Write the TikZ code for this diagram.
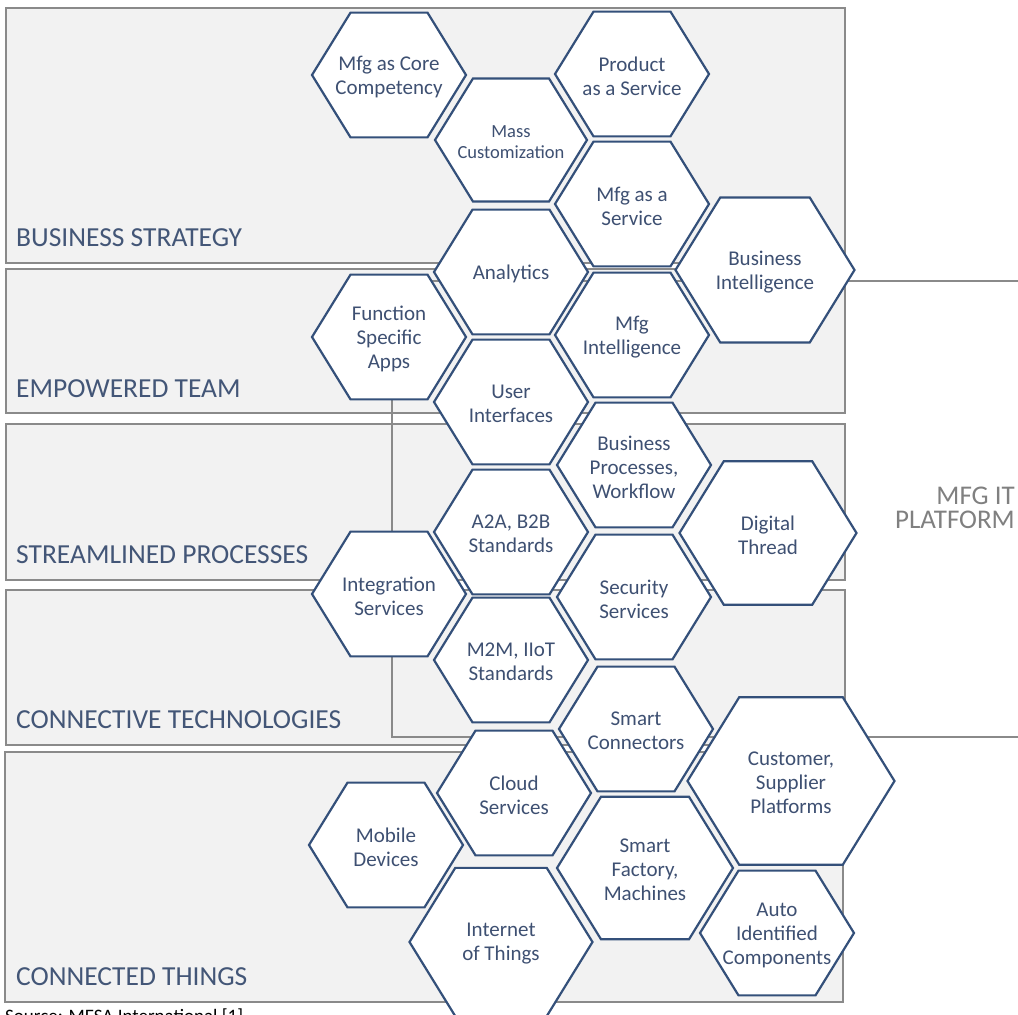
\documentclass[tikz,border=0pt]{standalone}
\usepackage{fontspec}
\setmainfont{Carlito}

\definecolor{hexblue}{HTML}{34507A}
\definecolor{hextext}{HTML}{3E5072}
\definecolor{layerfill}{HTML}{F2F2F2}
\definecolor{layerline}{HTML}{8A8A8A}
\definecolor{layertext}{HTML}{435677}
\definecolor{platformtext}{HTML}{808080}

\tikzset{
  layer/.style={fill=layerfill, draw=layerline, line width=1.8pt},
  layerlabel/.style={anchor=base west, text=layertext, inner sep=0pt,
    font=\fontsize{27.5}{30}\selectfont},
  platform/.style={draw=layerline, line width=1.8pt},
  hexagon/.style={fill=white, draw=hexblue, line width=2.2pt, line join=miter},
  hexlabel/.style={align=center, text=hextext, inner sep=0pt, yshift=-2pt,
    font=\fontsize{21}{24}\selectfont},
}

% one cell of the honeycomb: [label options], name, x, y, half width, label
\newcommand{\hexcell}[6][]{%
  \draw[hexagon] (#3,#4) ++(-#5,0) -- ++(0.5*#5,-0.81*#5) -- ++(#5,0)
    -- ++(0.5*#5,0.81*#5) -- ++(-0.5*#5,0.81*#5) -- ++(-#5,0) -- cycle;
  \node[hexlabel, #1] (#2) at (#3,#4) {#6};
}

\begin{document}
\begin{tikzpicture}[x=1pt, y=-1pt]
    \useasboundingbox (0,0) rectangle (1018,1015);
    \clip (0,0) rectangle (1018,1015);

    % the five layers
    \draw[layer] (6,8) rectangle (845,263);
    \draw[layer] (6,269) rectangle (845,413);
    \draw[layer] (6,424) rectangle (845,580);
    \draw[layer] (6,590) rectangle (845,745);
    \draw[layer] (5,752) rectangle (843,1002);

    \node[layerlabel] (strategy) at (16,246) {BUSINESS STRATEGY};
    \node[layerlabel] (team) at (16,397) {EMPOWERED TEAM};
    \node[layerlabel] (processes) at (16,563) {STREAMLINED PROCESSES};
    \node[layerlabel] (connective) at (16,728) {CONNECTIVE TECHNOLOGIES};
    \node[layerlabel] (things) at (16,985) {CONNECTED THINGS};

    % platform frame
    \draw[platform] (1030,281) -- (392,281) -- (392,737) -- (1030,737);
    \node[anchor=east, align=right, text=platformtext, inner sep=0pt,
      font=\fontsize{27}{24}\selectfont] (platform) at (1015,508) {MFG IT\\PLATFORM};

    % honeycomb
    \hexcell{core}{389}{75}{77}{Mfg as Core\\Competency}
    \hexcell{product}{632}{74}{77}{Product\\as a Service}
    \hexcell[font=\fontsize{18.5}{21}\selectfont]{mass}{511}{140}{76}{Mass\\Customization}
    \hexcell{mfgservice}{632}{204}{77}{Mfg as a\\Service}
    \hexcell{analytics}{511}{272}{77}{Analytics}
    \hexcell{bizintel}{765}{270}{89.5}{Business\\Intelligence}
    \hexcell{mfgintel}{632}{335}{77}{Mfg\\Intelligence}
    \hexcell{funcapps}{389}{337}{77}{Function\\Specific\\Apps}
    \hexcell{userint}{511}{402}{77}{User\\Interfaces}
    \hexcell{bizproc}{634}{465}{77}{Business\\Processes,\\Workflow}
    \hexcell{a2a}{511}{532}{77}{A2A, B2B\\Standards}
    \hexcell{thread}{768}{533}{88.5}{Digital\\Thread}
    \hexcell{integration}{389}{594}{77}{Integration\\Services}
    \hexcell{security}{634}{597}{77}{Security\\Services}
    \hexcell{m2m}{511}{660}{77}{M2M, IIoT\\Standards}
    \hexcell{connectors}{636}{729}{77}{Smart\\Connectors}
    \hexcell{partners}{791}{781}{103.5}{Customer,\\Supplier\\Platforms}
    \hexcell{cloud}{514}{793}{77}{Cloud\\Services}
    \hexcell{mobile}{386}{845}{77}{Mobile\\Devices}
    \hexcell{factory}{645}{868}{88}{Smart\\Factory,\\Machines}
    \hexcell{iot}{501}{942}{91.5}{Internet\\of Things}
    \hexcell{autoid}{777}{933}{77}{Auto\\Identified\\Components}

    \node[anchor=base west, inner sep=0pt, font=\fontsize{19}{23}\selectfont]
      (source) at (5,1022) {Source: MESA International [1]};
\end{tikzpicture}
\end{document}
